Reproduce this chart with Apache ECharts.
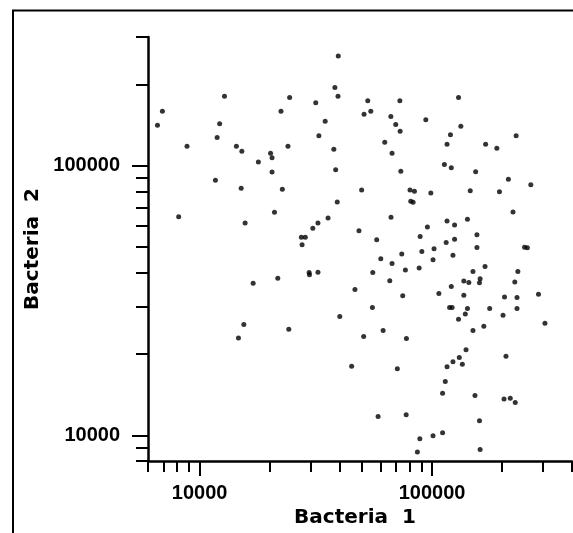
<!DOCTYPE html>
<html>
<head>
<meta charset="utf-8">
<script src="https://cdn.jsdelivr.net/npm/echarts@6/dist/echarts.min.js"></script>
<style>
  html, body { margin: 0; padding: 0; background: #fff; }
  #chart { width: 573px; height: 533px; }
</style>
</head>
<body>
<div id="chart"></div>
<script>
// Counts of the two bacteria per sample (log-log scatter)
const bacteria1 = [
  39500, 38200, 39400, 12800, 24400, 31600, 6920, 22400, 34700, 6590,
  12200, 11900, 32600, 8830, 14400, 15200, 24000, 37800, 20200, 20500,
  17900, 38500, 20500, 11700, 15100, 22700, 39100, 21000, 8130, 35700,
  130000, 52900, 72700, 54500, 51000, 66500, 94000, 69800, 133000, 72900,
  120000, 230000, 62600, 116000, 170000, 190000, 67300, 113000, 121000, 154000,
  213000, 266000, 73400, 49800, 80400, 84000, 98800, 146000, 195000, 81000,
  82900, 223000, 66600, 142000,
  15700, 32300, 30700, 27400, 28500, 27600, 29600, 29700, 32300, 21700,
  17000, 40100, 15500, 24200, 14700,
  116000, 125000, 95500, 48500, 88900, 156000, 57800, 125000, 115000, 156000,
  250000, 257000, 74100, 90400, 102000, 123000, 60200, 101000, 67300, 76800,
  88000, 55600, 169000, 150000, 234000, 65800, 137000, 144000, 161000, 160000,
  227000, 46600, 121000, 74800, 107000, 137000, 205000, 232000, 287000, 55400,
  119000, 122000, 142000, 177000, 232000, 139000, 130000, 202000, 306000, 167000,
  150000, 61600, 50800, 77600, 140000, 131000, 123000, 135000, 116000, 208000,
  45100, 70900, 114000, 111000, 153000, 204000, 217000, 228000, 58600, 77400,
  160000, 111000, 101000, 88600, 86500, 161000
];
const bacteria2 = [
  255000, 195000, 181000, 181000, 179000, 171000, 159000, 159000, 146000, 141000,
  143000, 127000, 129000, 118000, 118000, 113000, 118000, 115000, 111000, 107000,
  103000, 96500, 94600, 88200, 82300, 81600, 73200, 67100, 64600, 63900,
  179000, 174000, 174000, 159000, 155000, 152000, 148000, 142000, 140000, 134000,
  130000, 129000, 122000, 120000, 120000, 116000, 111000, 101000, 98100, 94800,
  88900, 84900, 95200, 81200, 81200, 80200, 79100, 80700, 80000, 73700,
  73100, 67300, 64300, 63200,
  61200, 61200, 58500, 54200, 54200, 50800, 40100, 39300, 40200, 38200,
  36600, 27500, 25700, 24700, 22900,
  62300, 60200, 59200, 57300, 54500, 55400, 53000, 53300, 51800, 49600,
  49800, 49500, 47000, 48000, 49100, 46500, 45100, 44700, 43300, 41000,
  41700, 40100, 42200, 40400, 40400, 37400, 37300, 36800, 38000, 36700,
  37000, 34700, 35600, 32900, 33500, 33000, 32500, 32400, 33300, 29700,
  29700, 29700, 29500, 29500, 29500, 28100, 26900, 27800, 26000, 25300,
  24400, 24400, 23200, 22800, 20700, 19400, 18700, 18300, 17900, 19600,
  18000, 17600, 15800, 14300, 14000, 13600, 13700, 13200, 11700, 11900,
  11300, 10200, 9930, 9680, 8640, 8840
];

// Axis ticks and labels
const xMinorTicks = [6000, 7000, 8000, 9000, 20000, 30000, 40000, 50000,
  60000, 70000, 80000, 90000, 200000, 300000, 400000];
const yMinorTicks = [8000, 9000, 20000, 30000, 40000, 50000, 60000,
  70000, 80000, 90000, 200000, 300000];
const xLabelValues = [10000, 100000];
const yLabelValues = [10000, 100000];

const X_MIN = 6000, X_MAX = 400000, Y_MIN = 8000, Y_MAX = 300000;

const points = bacteria1.map((v, i) => [v, bacteria2[i]]);

const chart = echarts.init(document.getElementById('chart'), null, { renderer: 'canvas' });

const labelFont = { fontFamily: 'Liberation Sans, Arial, sans-serif', fontSize: 20,
  fontWeight: 'bold', color: '#000' };
const nameFont = { fontFamily: 'DejaVu Sans, sans-serif', fontSize: 20,
  fontWeight: 'bold', color: '#000' };
const gridBox = { left: 148, right: 1, top: 37, bottom: 71, containLabel: false };
const tickLine = { color: '#000', width: 2 };
const fmt = v => String(Math.round(v));

chart.setOption({
  animation: false,
  backgroundColor: '#fff',
  // grid 0 carries the data and minor ticks, grid 1 the longer labelled ticks
  grid: [Object.assign({}, gridBox), Object.assign({}, gridBox)],
  graphic: [{
    type: 'rect',
    shape: { x: 13, y: 10.5, width: 700, height: 700 },
    style: { fill: 'none', stroke: '#000', lineWidth: 2 },
    silent: true
  }],
  xAxis: [{
    gridIndex: 0,
    type: 'log', logBase: 10, min: X_MIN, max: X_MAX,
    name: 'Bacteria  1',
    nameLocation: 'middle',
    nameGap: 46,
    nameTextStyle: Object.assign({ padding: [0, 10, 0, 0] }, nameFont),
    axisLine: { show: true, lineStyle: { color: '#000', width: 2.5 } },
    axisTick: { show: true, inside: false, length: 11, customValues: xMinorTicks, lineStyle: tickLine },
    axisLabel: Object.assign({ customValues: xLabelValues, margin: 22, formatter: fmt }, labelFont),
    splitLine: { show: false }
  }, {
    gridIndex: 1,
    type: 'log', logBase: 10, min: X_MIN, max: X_MAX,
    axisLine: { show: false },
    axisTick: { show: true, inside: false, length: 14, customValues: xLabelValues, lineStyle: tickLine },
    axisLabel: { show: false },
    splitLine: { show: false }
  }],
  yAxis: [{
    gridIndex: 0,
    type: 'log', logBase: 10, min: Y_MIN, max: Y_MAX,
    name: 'Bacteria  2',
    nameLocation: 'middle',
    nameGap: 104,
    nameTextStyle: nameFont,
    axisLine: { show: true, lineStyle: { color: '#000', width: 2.5 } },
    axisTick: { show: true, inside: false, length: 12, customValues: yMinorTicks, lineStyle: tickLine },
    axisLabel: Object.assign({ customValues: yLabelValues, margin: 28, formatter: fmt }, labelFont),
    splitLine: { show: false }
  }, {
    gridIndex: 1,
    type: 'log', logBase: 10, min: Y_MIN, max: Y_MAX,
    axisLine: { show: false },
    axisTick: { show: true, inside: false, length: 16, customValues: yLabelValues, lineStyle: tickLine },
    axisLabel: { show: false },
    splitLine: { show: false }
  }],
  series: [{
    type: 'scatter',
    xAxisIndex: 0,
    yAxisIndex: 0,
    data: points,
    symbol: 'circle',
    symbolSize: 5,
    itemStyle: { color: '#000' },
    silent: true
  }]
});
</script>
</body>
</html>
